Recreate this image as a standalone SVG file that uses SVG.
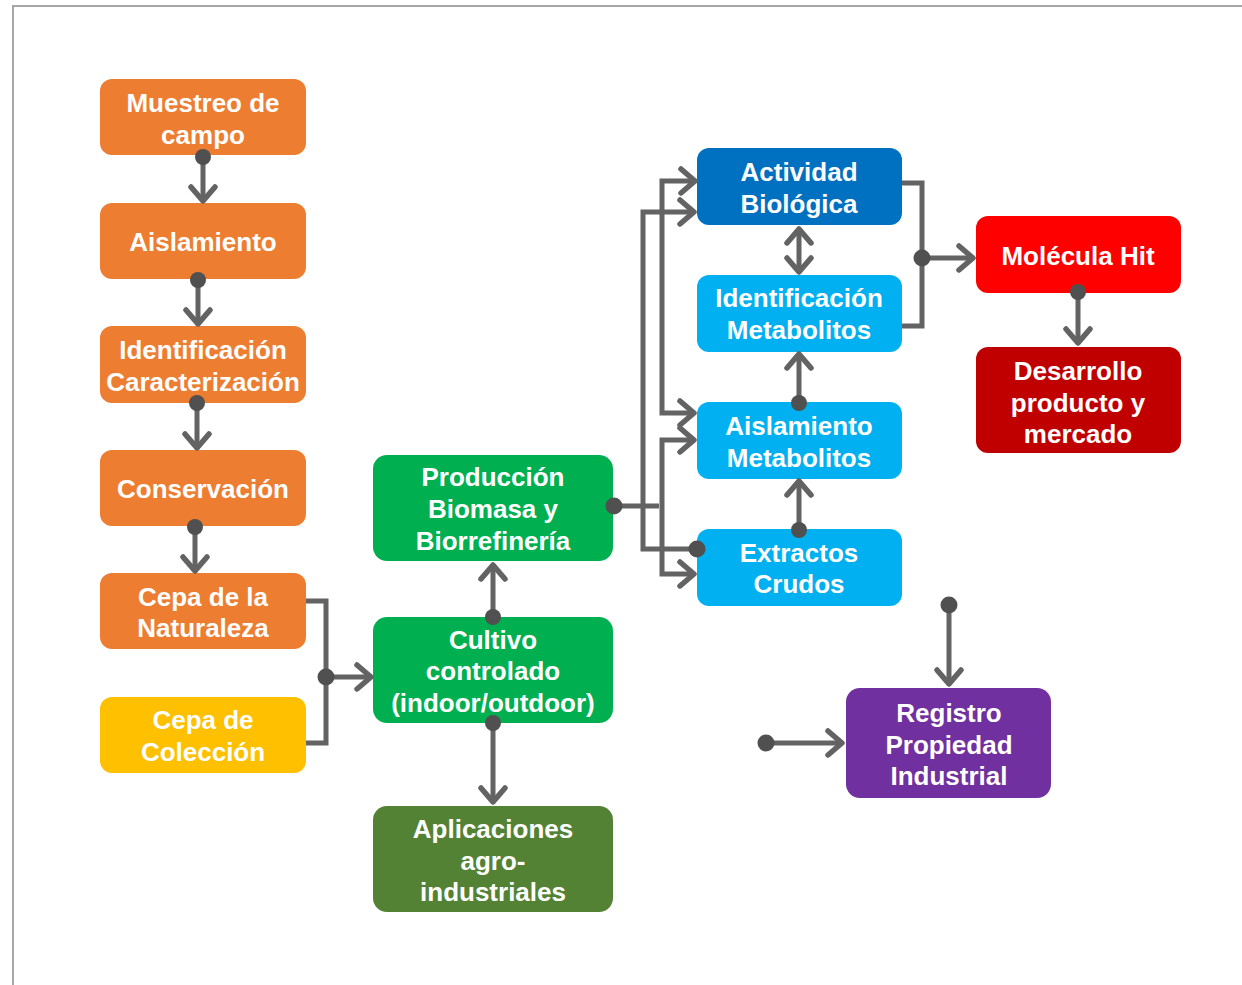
<svg xmlns="http://www.w3.org/2000/svg" width="1242" height="985" viewBox="0 0 1242 985">
<defs>
<style>
.box{stroke:none}
.t{font-family:"Liberation Sans",Arial,sans-serif;font-weight:bold;font-size:26px;fill:#fff;text-anchor:middle}
.ln{fill:none;stroke:#636363;stroke-width:5;stroke-linejoin:miter}
.ar{marker-end:url(#arr)}
.dot{fill:#505050}
</style>
<marker id="arr" viewBox="-22 -18 28 36" refX="0" refY="0" markerWidth="28" markerHeight="36" markerUnits="userSpaceOnUse" orient="auto-start-reverse">
<path d="M-14,-12 L0,0 L-14,12" fill="none" stroke="#636363" stroke-width="5.5" stroke-linecap="round" stroke-linejoin="round"/>
</marker>
</defs>
<rect width="1242" height="985" fill="#fff"/>
<path d="M13,985 V6 H1242" fill="none" stroke="#a6a6a6" stroke-width="2"/>

<g id="n-muestreo"><rect class="box" x="100" y="79" width="206" height="76" rx="12" fill="#ED7D31"/><text class="t" x="203" y="112">Muestreo de</text><text class="t" x="203" y="144">campo</text></g>
<g id="n-aislamiento"><rect class="box" x="100" y="203" width="206" height="76" rx="12" fill="#ED7D31"/><text class="t" x="203" y="251">Aislamiento</text></g>
<g id="n-identificacion"><rect class="box" x="100" y="326" width="206" height="77" rx="12" fill="#ED7D31"/><text class="t" x="203" y="359">Identificación</text><text class="t" x="203" y="391">Caracterización</text></g>
<g id="n-conservacion"><rect class="box" x="100" y="450" width="206" height="76" rx="12" fill="#ED7D31"/><text class="t" x="203" y="498">Conservación</text></g>
<g id="n-cepa-naturaleza"><rect class="box" x="100" y="573" width="206" height="76" rx="12" fill="#ED7D31"/><text class="t" x="203" y="606">Cepa de la</text><text class="t" x="203" y="637">Naturaleza</text></g>
<g id="n-cepa-coleccion"><rect class="box" x="100" y="697" width="206" height="76" rx="12" fill="#FFC000"/><text class="t" x="203" y="729">Cepa de</text><text class="t" x="203" y="761">Colección</text></g>

<g id="n-produccion"><rect class="box" x="373" y="455" width="240" height="106" rx="14" fill="#00B050"/><text class="t" x="493" y="486">Producción</text><text class="t" x="493" y="518">Biomasa y</text><text class="t" x="493" y="550">Biorrefinería</text></g>
<g id="n-cultivo"><rect class="box" x="373" y="617" width="240" height="106" rx="14" fill="#00B050"/><text class="t" x="493" y="649">Cultivo</text><text class="t" x="493" y="680">controlado</text><text class="t" x="493" y="712">(indoor/outdoor)</text></g>
<g id="n-aplicaciones"><rect class="box" x="373" y="806" width="240" height="106" rx="14" fill="#548235"/><text class="t" x="493" y="838">Aplicaciones</text><text class="t" x="493" y="870">agro-</text><text class="t" x="493" y="901">industriales</text></g>

<g id="n-actividad"><rect class="box" x="697" y="148" width="205" height="77" rx="12" fill="#0070C0"/><text class="t" x="799" y="181">Actividad</text><text class="t" x="799" y="213">Biológica</text></g>
<g id="n-ident-metab"><rect class="box" x="697" y="275" width="205" height="77" rx="12" fill="#00B0F0"/><text class="t" x="799" y="307">Identificación</text><text class="t" x="799" y="339">Metabolitos</text></g>
<g id="n-aisl-metab"><rect class="box" x="697" y="402" width="205" height="77" rx="12" fill="#00B0F0"/><text class="t" x="799" y="435">Aislamiento</text><text class="t" x="799" y="467">Metabolitos</text></g>
<g id="n-extractos"><rect class="box" x="697" y="529" width="205" height="77" rx="12" fill="#00B0F0"/><text class="t" x="799" y="562">Extractos</text><text class="t" x="799" y="593">Crudos</text></g>

<g id="n-molecula"><rect class="box" x="976" y="216" width="205" height="77" rx="12" fill="#FF0000"/><text class="t" x="1078" y="265">Molécula Hit</text></g>
<g id="n-desarrollo"><rect class="box" x="976" y="347" width="205" height="106" rx="12" fill="#C00000"/><text class="t" x="1078" y="380">Desarrollo</text><text class="t" x="1078" y="412">producto y</text><text class="t" x="1078" y="443">mercado</text></g>
<g id="n-registro"><rect class="box" x="846" y="688" width="205" height="110" rx="14" fill="#7030A0"/><text class="t" x="949" y="722">Registro</text><text class="t" x="949" y="754">Propiedad</text><text class="t" x="949" y="785">Industrial</text></g>

<g id="connectors">
<path class="ln ar" d="M203,157 V201"/>
<path class="ln ar" d="M198,280 V324"/>
<path class="ln ar" d="M197,403 V448"/>
<path class="ln ar" d="M195,527 V571"/>
<path class="ln" d="M306,601 H326 V743 H306"/>
<path class="ln ar" d="M326,677 H371"/>
<path class="ln ar" d="M493,617 V565"/>
<path class="ln ar" d="M493,723 V802"/>
<path class="ln" d="M614,506 H659"/>
<path class="ln ar" d="M695,181 H662 V413 H694" style="marker-start:url(#arr)"/>
<path class="ln ar" d="M694,440 H662 V574 H694" style="marker-start:url(#arr)"/>
<path class="ln ar" d="M697,549 H643 V212 H694"/>
<path class="ln ar" d="M799,403 V354"/>
<path class="ln ar" d="M799,530 V481"/>
<path class="ln ar" d="M799,229 V272" style="marker-start:url(#arr)"/>
<path class="ln" d="M902,183 H922 V326 H902"/>
<path class="ln ar" d="M922,258 H973"/>
<path class="ln ar" d="M1078,292 V343"/>
<path class="ln ar" d="M949,605 V684"/>
<path class="ln ar" d="M766,743 H842"/>
<circle class="dot" cx="203" cy="157" r="8"/>
<circle class="dot" cx="198" cy="280" r="8"/>
<circle class="dot" cx="197" cy="403" r="8"/>
<circle class="dot" cx="195" cy="527" r="8"/>
<circle class="dot" cx="326" cy="677" r="8.5"/>
<circle class="dot" cx="493" cy="617" r="8"/>
<circle class="dot" cx="493" cy="723" r="8"/>
<circle class="dot" cx="614" cy="506" r="8.5"/>
<circle class="dot" cx="697" cy="549" r="8.5"/>
<circle class="dot" cx="799" cy="403" r="8"/>
<circle class="dot" cx="799" cy="530" r="8"/>
<circle class="dot" cx="922" cy="258" r="8.5"/>
<circle class="dot" cx="1078" cy="292" r="8"/>
<circle class="dot" cx="949" cy="605" r="8.5"/>
<circle class="dot" cx="766" cy="743" r="8.5"/>
</g>
</svg>
